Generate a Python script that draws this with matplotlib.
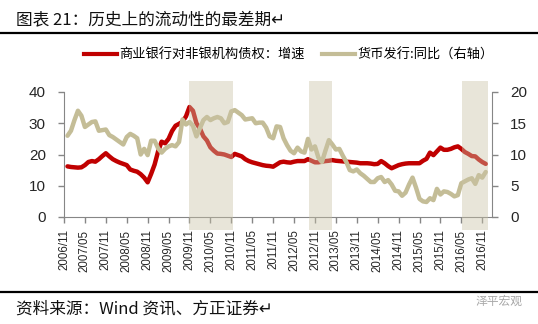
import matplotlib.pyplot as plt
from matplotlib.lines import Line2D

plt.rcParams['font.family'] = ['Noto Sans CJK SC', 'DejaVu Sans']

# month index 0 = 2006/11, data runs 2006/12 .. 2016/12
months = list(range(1, 122))

# 商业银行对非银机构债权：增速 (%)
bank_claims = [
    16.2, 16.0, 15.9, 15.8, 15.9, 16.6, 17.6, 17.9, 17.7, 18.5, 19.5, 20.4,
    19.4, 18.5, 17.9, 17.4, 17.0, 16.6, 15.2, 14.8, 14.5, 13.7, 12.6, 11.1,
    13.8, 16.8, 21.0, 24.1, 23.6, 25.0, 27.5, 29.2, 29.8, 30.5, 32.2, 35.2,
    34.0, 30.0, 28.3, 25.8, 24.5, 22.3, 21.2, 20.3, 20.2, 20.0, 19.6, 19.2,
    20.2, 19.8, 19.4, 18.5, 17.9, 17.5, 17.2, 16.9, 16.6, 16.4, 16.3, 16.1,
    16.8, 17.5, 17.7, 17.5, 17.4, 17.7, 17.9, 17.9, 17.9, 18.5, 18.0, 17.5,
    17.5, 17.7, 17.9, 18.0, 18.2, 18.0, 17.9, 17.8, 17.7, 17.6, 17.5, 17.4,
    17.2, 17.2, 17.2, 17.1, 16.9, 17.0, 17.9, 17.2, 16.3, 15.6, 16.1, 16.6,
    16.9, 17.1, 17.2, 17.2, 17.2, 17.2, 18.0, 18.6, 20.6, 19.8, 21.0, 22.2,
    21.5, 21.5, 21.8, 22.3, 22.6, 21.8, 20.8, 20.2, 19.5, 19.4, 18.4, 17.6,
    17.0,
]

# 货币发行:同比 (%), right axis
currency_yoy = [
    13.0, 13.8, 15.5, 17.0, 16.2, 14.4, 14.8, 15.2, 15.3, 13.8, 13.9, 14.0,
    13.1, 12.8, 12.4, 12.0, 11.6, 12.8, 13.3, 13.0, 12.6, 10.0, 10.9, 9.9,
    12.2, 12.2, 11.0, 10.3, 10.9, 11.3, 11.5, 11.3, 12.0, 15.6, 14.8, 15.2,
    14.6, 12.9, 14.2, 15.5, 16.0, 15.5, 15.8, 16.0, 15.8, 15.0, 15.2, 16.9,
    17.1, 16.7, 16.3, 15.6, 15.7, 15.8, 15.0, 15.1, 15.1, 14.3, 12.9, 12.6,
    14.5, 14.4, 12.6, 11.5, 10.6, 10.2, 11.1, 10.5, 10.3, 12.5, 10.8, 11.3,
    9.5, 8.8, 10.6, 12.3, 11.6, 10.8, 10.9, 9.8, 8.8, 7.5, 7.3, 7.6,
    7.0, 6.6, 6.1, 5.6, 5.6, 6.2, 6.4, 5.6, 5.9, 5.2, 4.2, 4.1,
    3.4, 3.9, 5.2, 6.3, 4.7, 2.9, 2.5, 2.4, 3.0, 2.7, 4.5, 3.6,
    4.1, 4.0, 3.7, 3.3, 3.5, 5.4, 5.7, 6.0, 6.2, 5.3, 6.7, 6.3,
    7.2,
]

tick_pos = list(range(0, 121, 6))
tick_labels = [
    '2006/11', '2007/05', '2007/11', '2008/05', '2008/11', '2009/05',
    '2009/11', '2010/05', '2010/11', '2011/05', '2011/11', '2012/05',
    '2012/11', '2013/05', '2013/11', '2014/05', '2014/11', '2015/05',
    '2015/11', '2016/05', '2016/11',
]

# worst liquidity periods (month index start, end)
tight_periods = [(35.9, 48.5), (70.3, 76.9), (114.2, 121.7)]

red = '#c00000'
tan = '#c4bd97'
grey = '#868686'

fig = plt.figure(figsize=(5.38, 3.24), dpi=100)
ax = fig.add_axes([64 / 538, 1 - 217 / 324, 428 / 538, 125 / 324])
ax2 = ax.twinx()

ax.plot(months, bank_claims, color=red, lw=3.2, solid_capstyle='round',
        label='商业银行对非银机构债权：增速')
ax2.plot(months, currency_yoy, color=tan, lw=3.2, solid_capstyle='round',
         label='货币发行:同比（右轴）')

for start, end in tight_periods:
    ax2.axvspan(start, end, ymin=-0.104, ymax=1.088, color='#c9c3a6',
                alpha=0.42, lw=0, clip_on=False, zorder=10)

ax.set_xlim(0, 122.8)
ax.set_ylim(0, 40)
ax2.set_ylim(0, 20)
ax.set_yticks([0, 10, 20, 30, 40])
ax2.set_yticks([0, 5, 10, 15, 20])
ax.set_xticks(tick_pos)
ax.set_xticklabels(tick_labels, rotation=90, fontsize=8.3,
                   family=['Liberation Sans', 'DejaVu Sans'])

for a in (ax, ax2):
    a.spines['top'].set_visible(False)
    for s in ('left', 'right', 'bottom'):
        a.spines[s].set_color(grey)
    a.tick_params(colors=grey, labelcolor='#262626', length=4, width=1)
ax.spines['right'].set_visible(False)
ax2.spines['left'].set_visible(False)
ax2.spines['bottom'].set_visible(False)
ax.tick_params(axis='y', pad=9, labelsize=11)
ax2.tick_params(axis='y', pad=9, labelsize=11)
ax.tick_params(axis='x', pad=5)
for lab in ax.get_yticklabels() + ax2.get_yticklabels():
    lab.set_family(['Liberation Sans', 'DejaVu Sans'])

handles = [Line2D([], [], color=red, lw=3), Line2D([], [], color=tan, lw=3)]
fig.legend(handles, ['商业银行对非银机构债权：增速', '货币发行:同比（右轴）'],
           loc='center', bbox_to_anchor=(0.537, 1 - 55 / 324), ncol=2,
           frameon=False, fontsize=9.5, handlelength=2.5, handletextpad=0.2,
           columnspacing=1.3)

fig.text(16 / 538, 1 - 20 / 324, '图表 21：历史上的流动性的最差期↵',
         fontsize=12, va='center', ha='left', color='#111111')
fig.add_artist(Line2D([0, 1], [1 - 33 / 324] * 2, color='black', lw=1.6))
fig.add_artist(Line2D([0, 1], [1 - 292 / 324] * 2, color='black', lw=1.6))
fig.text(16 / 538, 1 - 309 / 324, '资料来源：Wind 资讯、方正证券↵',
         fontsize=12, va='center', ha='left', color='#111111', style='italic')
fig.text(522 / 538, 1 - 301 / 324, '泽平宏观', fontsize=8.5,
         va='center', ha='right', color='#a8a8a8')

fig.savefig('out.png', dpi=100)
